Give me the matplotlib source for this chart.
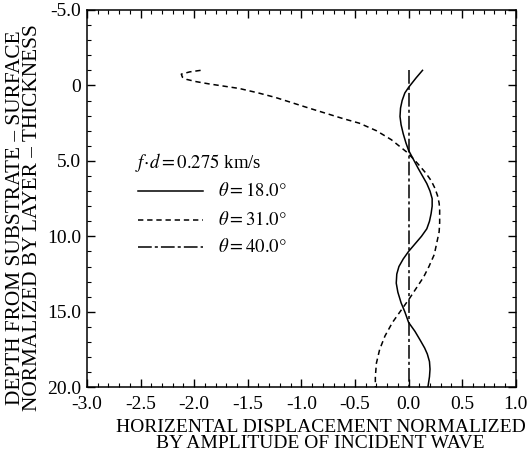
import numpy as np
import matplotlib.pyplot as plt
from matplotlib.ticker import MultipleLocator, FixedLocator

plt.rcParams['font.family'] = ['Liberation Serif', 'DejaVu Serif']
plt.rcParams['mathtext.fontset'] = 'stix'
plt.rcParams['axes.unicode_minus'] = False

# depth (normalized) and horizontal displacement for each incidence angle
depth_18 = [-1.0, -0.5, 0.13, 0.5, 1.0, 1.5, 2.06, 2.6, 3.2, 3.8, 4.3, 4.9, 5.5, 6.0,
            6.5, 7.0, 7.5, 8.0, 8.5, 9.0, 9.5, 10.0, 10.5, 11.0, 11.5, 12.0, 12.5,
            13.1, 13.7, 14.4, 15.0, 15.7, 16.3, 16.9, 17.4, 17.8, 18.3, 18.8, 19.3, 20.0]
disp_18 = [0.13, 0.07, 0.0, -0.035, -0.06, -0.075, -0.08, -0.07, -0.05, -0.025, 0.0, 0.045, 0.09, 0.13,
           0.17, 0.20, 0.22, 0.22, 0.21, 0.195, 0.17, 0.12, 0.06, 0.0, -0.05, -0.09, -0.11,
           -0.115, -0.10, -0.07, -0.035, 0.0, 0.06, 0.11, 0.15, 0.175, 0.195, 0.20, 0.195, 0.18]

depth_31 = [-1.0, -0.9, -0.75, -0.55, -0.4, -0.25, -0.1, 0.2, 0.5, 0.8, 1.5, 2.2, 2.5, 3.0,
            3.6, 4.4, 4.9, 5.3, 5.8, 6.3, 6.8, 7.3, 7.8, 8.2, 9.1, 9.7, 10.2, 11.2, 12.0,
            12.7, 13.4, 14.1, 14.9, 15.7, 16.6, 17.5, 18.4, 19.3, 20.0]
disp_31 = [-1.94, -2.04, -2.12, -2.11, -2.07, -1.98, -1.86, -1.58, -1.40, -1.24, -0.93, -0.61, -0.46, -0.30,
           -0.16, -0.02, 0.05, 0.10, 0.16, 0.21, 0.245, 0.27, 0.285, 0.29, 0.29, 0.285, 0.27, 0.24, 0.19,
           0.14, 0.075, 0.01, -0.07, -0.15, -0.22, -0.27, -0.30, -0.31, -0.31]

depth_40 = [-1.0, 20.0]
disp_40 = [0.0, 0.0]

x_ticks = [-3.0, -2.5, -2.0, -1.5, -1.0, -0.5, 0.0, 0.5, 1.0]
x_labels = ['-3.0', '-2.5', '-2.0', '-1.5', '-1.0', '-0.5', '0.0', '0.5', '1.0']
y_ticks = [-5.0, 0.0, 5.0, 10.0, 15.0, 20.0]
y_labels = ['-5.0', '0', '5.0', '10.0', '15.0', '20.0']

fig = plt.figure(figsize=(5.32, 4.54), dpi=100)
ax = fig.add_axes([0.1635, 0.147, 0.806, 0.831])

ax.plot(disp_18, depth_18, color='black', lw=1.1, linestyle='-')
ax.plot(disp_31, depth_31, color='black', lw=1.1, linestyle=(0, (3.5, 2.5)))
ax.plot(disp_40, depth_40, color='black', lw=1.1, linestyle=(0, (9, 2, 2, 2)))

ax.set_xlim(-3.0, 1.0)
ax.set_ylim(20.0, -5.0)
ax.xaxis.set_major_locator(FixedLocator(x_ticks))
ax.set_xticklabels(x_labels)
ax.yaxis.set_major_locator(FixedLocator(y_ticks))
ax.set_yticklabels(y_labels)
ax.xaxis.set_minor_locator(MultipleLocator(0.1))
ax.yaxis.set_minor_locator(MultipleLocator(1.0))
ax.tick_params(which='both', direction='in', top=True, right=True, labelsize=14)
ax.tick_params(axis='x', pad=6)
ax.tick_params(axis='y', pad=4)
ax.tick_params(which='major', length=6, width=1)
ax.tick_params(which='minor', length=3, width=0.8)
for s in ax.spines.values():
    s.set_linewidth(1.1)

ax.set_xlabel('HORIZENTAL DISPLACEMENT NORMALIZED\nBY AMPLITUDE OF INCIDENT WAVE',
              fontsize=14, linespacing=0.9)
ax.xaxis.set_label_coords(0.545, -0.085, transform=ax.transAxes)
ax.xaxis.label.set_va('top')
ax.set_ylabel('DEPTH FROM SUBSTRATE \u2013 SURFACE\nNORMALIZED BY LAYER \u2013 THICKNESS',
              fontsize=15.3, linespacing=0.85)
ax.yaxis.set_label_coords(-0.106, 0.45, transform=ax.transAxes)

# legend drawn by hand
ax.text(-2.55, 5.1, r'$f\!\cdot\! d=0.275$ km/s', fontsize=13.5, va='center')
legend_y = [7.0, 8.9, 10.7]
legend_ls = ['-', (0, (3.5, 2.5)), (0, (9, 2, 2, 2))]
legend_txt = [r'$\theta=18.0°$', r'$\theta=31.0°$', r'$\theta=40.0°$']
for ly, ls, lt in zip(legend_y, legend_ls, legend_txt):
    ax.plot([-2.52, -1.92], [ly, ly], color='black', lw=1.1, linestyle=ls)
    ax.text(-1.78, ly, lt, fontsize=13.5, va='center')

fig.savefig('out.png', dpi=100)
